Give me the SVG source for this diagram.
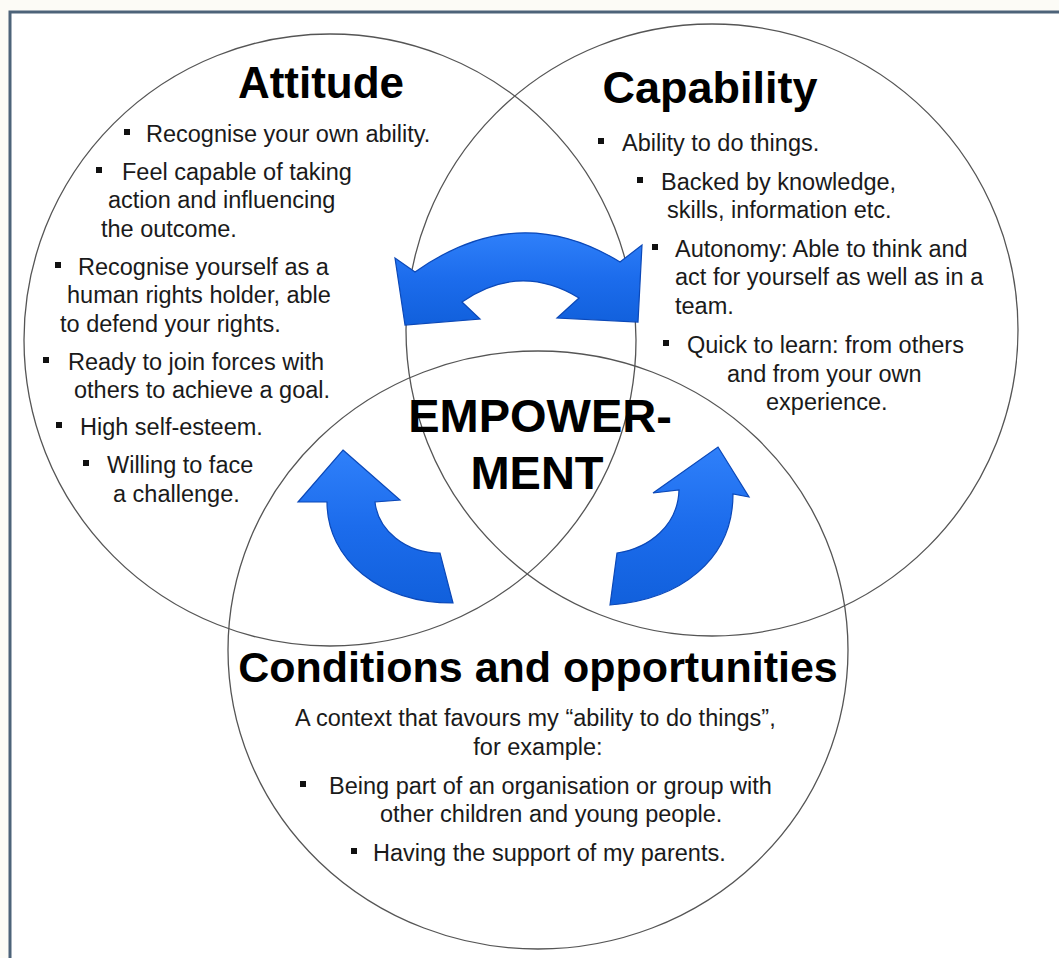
<svg xmlns="http://www.w3.org/2000/svg" width="1059" height="958" viewBox="0 0 1059 958">
<style>
.ring{fill:none;stroke:#555;stroke-width:1.3}
.title{font-family:"Liberation Sans",Arial,sans-serif;font-weight:bold;fill:#000}
.body{font-family:"Liberation Sans",Arial,sans-serif;font-size:23.5px;fill:#1a1a1a}
.bul{fill:#111}
.arrow{fill:url(#blue);stroke:#0b48b8;stroke-width:1.2;stroke-linejoin:miter}
</style>
<defs>
<linearGradient id="blue" x1="0" y1="0" x2="0" y2="1">
<stop offset="0" stop-color="#2f80fa"/>
<stop offset="0.5" stop-color="#1c6cec"/>
<stop offset="1" stop-color="#1160dc"/>
</linearGradient>
</defs>
<rect x="0" y="0" width="1059" height="958" fill="#fcfbf6"/>
<rect x="10" y="12" width="1100" height="1000" fill="#ffffff" stroke="#4d6379" stroke-width="3"/>

<g id="attitude">
<circle class="ring" cx="330" cy="340" r="306"/>
<text class="title" x="321" y="98" font-size="44" text-anchor="middle">Attitude</text>
<rect class="bul" x="124" y="129" width="6" height="6"/>
<text class="body" x="146" y="142">Recognise your own ability.</text>
<rect class="bul" x="96" y="167" width="6" height="6"/>
<text class="body" x="122" y="180">Feel capable of taking</text>
<text class="body" x="108" y="208">action and influencing</text>
<text class="body" x="101" y="237">the outcome.</text>
<rect class="bul" x="55" y="262" width="6" height="6"/>
<text class="body" x="78" y="275">Recognise yourself as a</text>
<text class="body" x="67" y="303">human rights holder, able</text>
<text class="body" x="60" y="332">to defend your rights.</text>
<rect class="bul" x="43" y="357" width="6" height="6"/>
<text class="body" x="68" y="370">Ready to join forces with</text>
<text class="body" x="74" y="398">others to achieve a goal.</text>
<rect class="bul" x="56" y="422" width="6" height="6"/>
<text class="body" x="80" y="435">High self-esteem.</text>
<rect class="bul" x="83" y="460" width="6" height="6"/>
<text class="body" x="107" y="473">Willing to face</text>
<text class="body" x="113" y="502">a challenge.</text>
</g>

<g id="capability">
<circle class="ring" cx="712" cy="330" r="306"/>
<text class="title" x="710" y="103" font-size="45" text-anchor="middle">Capability</text>
<rect class="bul" x="598" y="138" width="6" height="6"/>
<text class="body" x="622" y="151">Ability to do things.</text>
<rect class="bul" x="637" y="177" width="6" height="6"/>
<text class="body" x="661" y="190">Backed by knowledge,</text>
<text class="body" x="667" y="218">skills, information etc.</text>
<rect class="bul" x="652" y="244" width="6" height="6"/>
<text class="body" x="675" y="257">Autonomy: Able to think and</text>
<text class="body" x="675" y="285">act for yourself as well as in a</text>
<text class="body" x="675" y="314">team.</text>
<rect class="bul" x="663" y="340" width="6" height="6"/>
<text class="body" x="687" y="353">Quick to learn: from others</text>
<text class="body" x="727" y="382">and from your own</text>
<text class="body" x="766" y="410">experience.</text>
</g>

<g id="conditions">
<ellipse class="ring" cx="538" cy="650" rx="310" ry="299"/>
<text class="title" x="538" y="682" font-size="43" text-anchor="middle">Conditions and opportunities</text>
<text class="body" x="295" y="726">A context that favours my “ability to do things”,</text>
<text class="body" x="538" y="755" text-anchor="middle">for example:</text>
<rect class="bul" x="300" y="781" width="6" height="6"/>
<text class="body" x="329" y="794">Being part of an organisation or group with</text>
<text class="body" x="380" y="822">other children and young people.</text>
<rect class="bul" x="351" y="848" width="6" height="6"/>
<text class="body" x="373" y="861">Having the support of my parents.</text>
</g>

<g id="connectors">
<path class="arrow" d="M405,325 L395,258 L415,272 Q518,199 620,262 L642,245 L638,322 L557,318 L579,298 Q520,262 462,302 L480,319 Z"/>
<path class="arrow" d="M343,450 L400,500 L375,502 C378,530 405,553 440,553 L453,603 C380,603 327,560 327,502 L298,502 Z"/>
<path class="arrow" d="M718,447 L749,497 L733,494 C733,560 680,600 610,605 L617,553 C650,548 678,525 679,490 L653,493 Z"/>
</g>

<g id="empowerment">
<text class="title" x="540" y="432" font-size="47" text-anchor="middle">EMPOWER-</text>
<text class="title" x="537" y="489" font-size="47" text-anchor="middle">MENT</text>
</g>
</svg>
